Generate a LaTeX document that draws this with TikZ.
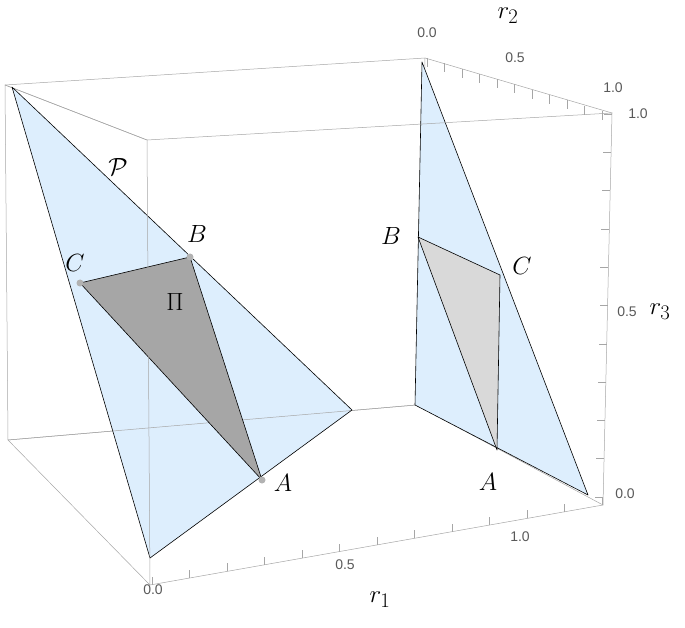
\documentclass[tikz,border=0pt]{standalone}
\usepackage{fontspec}
\newfontfamily\tickfont{Liberation Sans}
\begin{document}
\begin{tikzpicture}[x=1pt,y=-1pt,
  boxl/.style={draw=gray!70,line width=0.5pt},
  blue/.style={fill={rgb,255:red,221;green,238;blue,253},draw=black,line width=0.6pt,line join=round},
  tick/.style={draw=gray!70,line width=0.5pt},
  tl/.style={font=\tickfont\fontsize{14}{14}\selectfont,text=gray!70!black},
  lab/.style={font=\fontsize{30}{30}\selectfont},
  dot/.style={circle,fill=gray!60,inner sep=0pt,minimum size=7pt}]
\useasboundingbox (0,0) rectangle (685,628);
% back box edges
\coordinate (V1) at (5,85); \coordinate (V2) at (425,58); \coordinate (V3) at (612,113);
\coordinate (V4) at (147,140); \coordinate (V5) at (8,440); \coordinate (V6) at (150,585);
\coordinate (V7) at (603,505); \coordinate (V8) at (416,405);
\draw[boxl] (V1)--(V2)--(V3); \draw[boxl] (V1)--(V5)--(V6); \draw[boxl] (V5)--(V8)--(V7);
\draw[boxl] (V2)--(V8); \draw[boxl] (V1)--(V4);
% left triangle
\coordinate (P1) at (12,87); \coordinate (P2) at (150,558); \coordinate (P3) at (352,410);
\coordinate (lC) at (80,283); \coordinate (lB) at (190,257); \coordinate (lA) at (262,480);
\fill[fill={rgb,255:red,221;green,238;blue,253}] (P1)--(P2)--(P3)--cycle;
\draw[boxl] (V5)--(V8); \draw[boxl] (V1)--(V4);
\draw[black,line width=0.6pt,line join=round] (P1)--(P2)--(P3)--cycle;
\draw[fill=gray!70,draw=black,line width=0.6pt,line join=round] (lC)--(lB)--(lA)--cycle;
% right triangle
\coordinate (Q1) at (422,62); \coordinate (Q2) at (415,405); \coordinate (Q3) at (588,495);
\coordinate (rB) at (418,237); \coordinate (rC) at (500,275); \coordinate (rA) at (497,450);
\draw[blue] (Q1)--(Q2)--(Q3)--cycle;
\draw[fill=gray!30,draw=black,line width=0.6pt,line join=round] (rB)--(rC)--(rA)--cycle;
% front box edges
\draw[boxl] (V4)--(V3)--(V7)--(V6)--(V4);
% dots
\node[dot] at (lB) {}; \node[dot] at (lC) {}; \node[dot] at (lA) {};
% ticks r1
\foreach \i in {0,...,12} {
  \pgfmathsetmacro\xx{152+\i*37.5}
  \pgfmathsetmacro\yy{585-(\xx-150)*0.1766}
  \draw[tick] (\xx,\yy) -- (\xx,\yy-8);}
% ticks r3
\foreach \i in {0,...,10} {
  \pgfmathsetmacro\yy{497-\i*38.3}
  \pgfmathsetmacro\xx{603+\i*0.9}
  \draw[tick] (\xx,\yy) -- (\xx-8,\yy);}
% ticks r2
\foreach \i in {0,...,10} {
  \pgfmathsetmacro\xx{427+\i*17.5}
  \pgfmathsetmacro\yy{58+\i*5.3}
  \draw[tick] (\xx,\yy) -- (\xx,\yy+9);}
% tick labels
\node[tl] (t10) at (153,590) {0.0}; \node[tl] (t11) at (345,565) {0.5}; \node[tl] (t12) at (520,537) {1.0};
\node[tl] (t20) at (427,33) {0.0}; \node[tl] (t21) at (515,58) {0.5}; \node[tl] (t22) at (613,88) {1.0};
\node[tl] (t30) at (625,494) {0.0}; \node[tl] (t31) at (627,312) {0.5}; \node[tl] (t32) at (638,114) {1.0};
\node[lab] (r1) at (380,600) {$r_1$}; \node[lab] (r2) at (508,16) {$r_2$}; \node[lab] (r3) at (660,312) {$r_3$};
% labels
\node[lab] (Pl) at (118,167) {$\mathcal{P}$};
\node[lab] (Bl) at (197,234) {$B$}; \node[lab] (Cl) at (75,263) {$C$};
\node[lab] (Al) at (283,483) {$A$}; \node[lab] (Pil) at (175,302) {$\Pi$};
\node[lab] (Br) at (391,236) {$B$}; \node[lab] (Cr) at (522,266) {$C$}; \node[lab] (Ar) at (488,482) {$A$};
\end{tikzpicture}
\end{document}
